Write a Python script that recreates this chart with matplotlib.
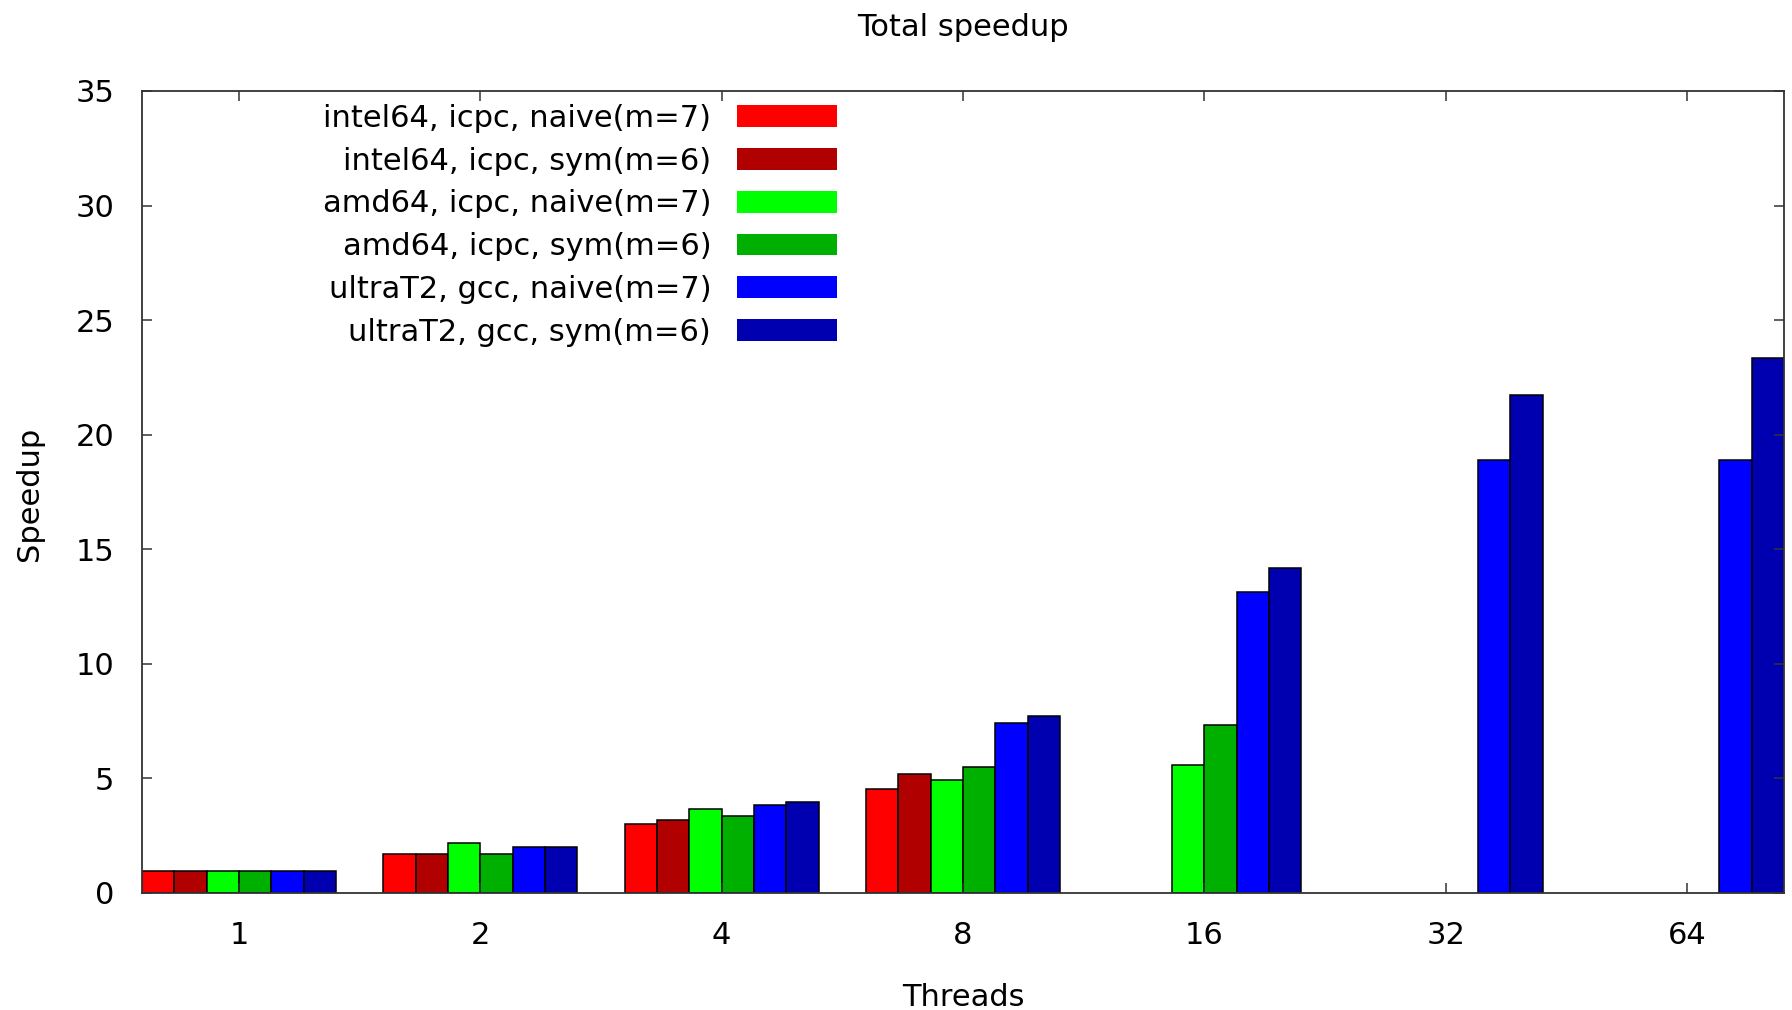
import numpy as np
import matplotlib
matplotlib.use('Agg')
import matplotlib.pyplot as plt
from matplotlib.patches import Patch

# ---- data ----
threads = ['1', '2', '4', '8', '16', '32', '64']
series = ['intel64, icpc, naive(m=7)', 'intel64, icpc, sym(m=6)',
          'amd64, icpc, naive(m=7)', 'amd64, icpc, sym(m=6)',
          'ultraT2, gcc, naive(m=7)', 'ultraT2, gcc, sym(m=6)']
nan = np.nan
intel_naive = [0.95, 1.72, 2.99, 4.53, nan, nan, nan]
intel_sym   = [0.95, 1.72, 3.17, 5.21, nan, nan, nan]
amd_naive   = [0.95, 2.20, 3.65, 4.92, 5.60, nan, nan]
amd_sym     = [0.95, 1.72, 3.36, 5.48, 7.34, nan, nan]
ultra_naive = [0.95, 2.00, 3.86, 7.43, 13.13, 18.91, 18.91]
ultra_sym   = [0.95, 2.00, 3.95, 7.73, 14.19, 21.73, 23.35]
colors = ['#ff0000', '#b00000', '#00ff00', '#00b000', '#0000ff', '#0000b0']

values = [intel_naive, intel_sym, amd_naive, amd_sym, ultra_naive, ultra_sym]

plt.rcParams['font.family'] = ['DejaVu Sans']
plt.rcParams['font.size'] = 22

fig = plt.figure(figsize=(17.92, 10.10), dpi=100)
ax = fig.add_axes([142/1792, 1 - 893/1010, (1784-142)/1792, (893-91)/1010])

# clustered bars, gnuplot style
w = 0.134
x = np.arange(len(threads))
for i, (vals, c) in enumerate(zip(values, colors)):
    ax.bar(x + (i - 2.5) * w, vals, width=w, color=c, edgecolor='black', linewidth=1.1)

ax.set_xlim(-3 * w, len(threads) - 1 + 3 * w)
ax.set_ylim(0, 35)
ax.set_yticks(range(0, 36, 5))
ax.set_xticks(x)
ax.set_xticklabels(threads)
ax.tick_params(direction='in', length=7, width=1.1, top=True, right=True, color='#333333')
ax.tick_params(axis='x', pad=20)
ax.tick_params(axis='y', pad=20)
for s in ax.spines.values():
    s.set_linewidth(1.3)
    s.set_color('#333333')

fig.text(963/1792, 1 - 27/1010, 'Total speedup', ha='center', va='center', fontsize=22)
fig.text(963/1792, 1 - 997/1010, 'Threads', ha='center', va='center', fontsize=22)
fig.text(29/1792, 1 - 494/1010, 'Speedup', ha='center', va='center', rotation=90, fontsize=22)

handles = [Patch(facecolor=c, edgecolor='none') for c in colors]
ax.legend(handles, series, loc='upper right', bbox_to_anchor=(0.4233, 0.984),
          markerfirst=False, frameon=False, borderpad=0, borderaxespad=0,
          handlelength=3.27, handleheight=0.72, handletextpad=0.85, labelspacing=0.45,
          fontsize=22)

fig.savefig('out.png', dpi=100)
